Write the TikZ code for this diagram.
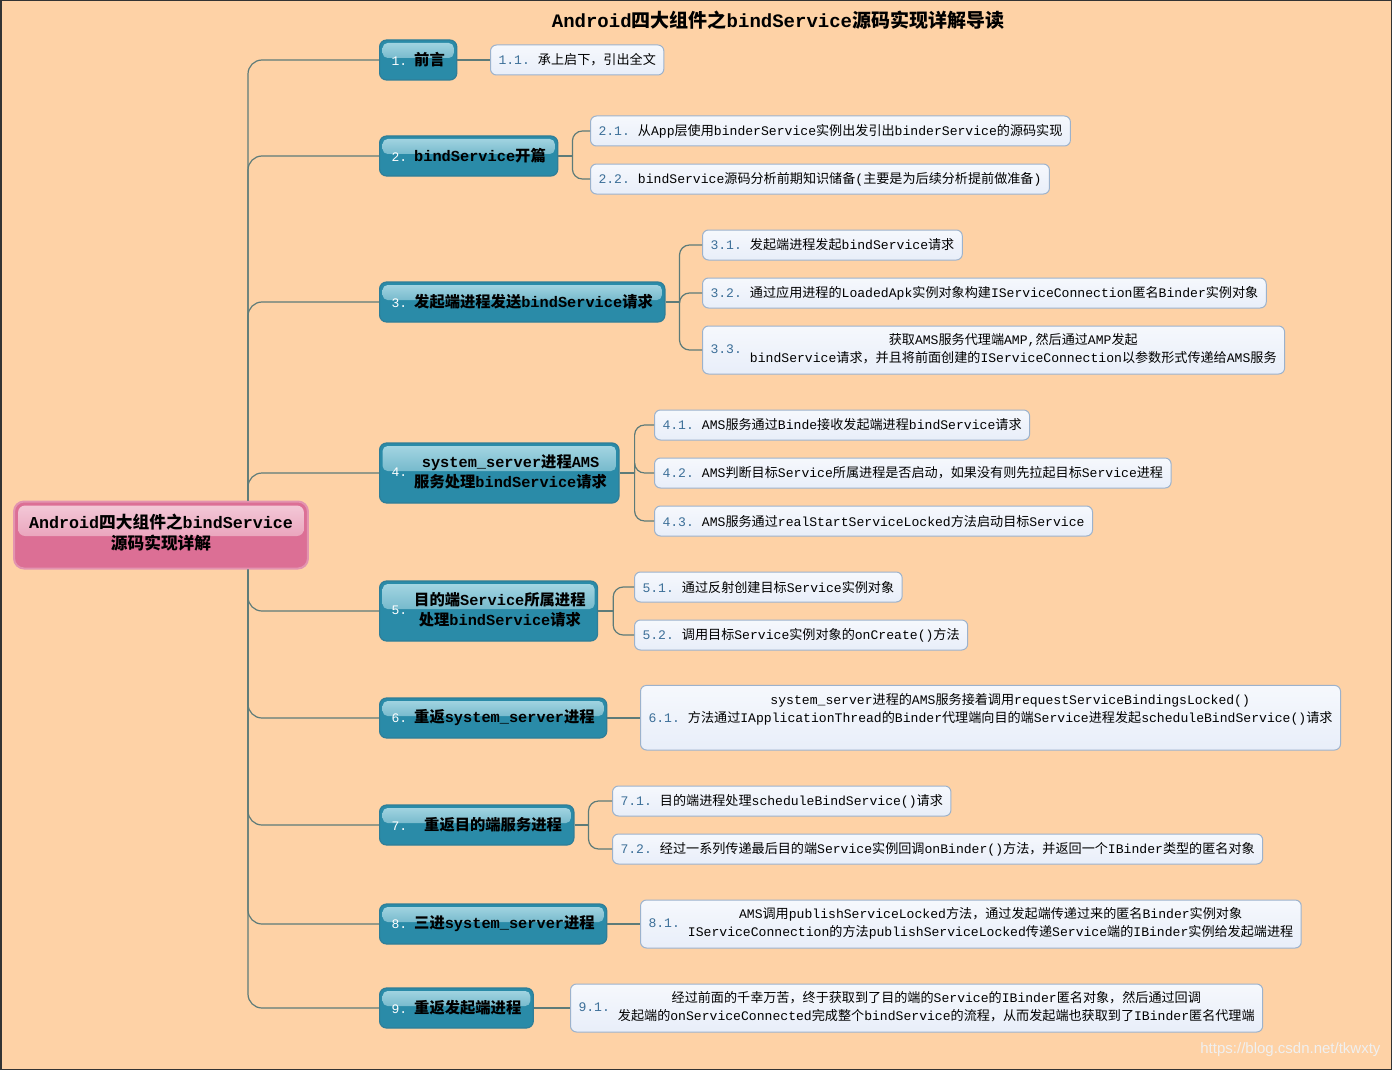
\documentclass[tikz,border=0pt]{standalone}
\usepackage{fontspec}
\setmainfont{Liberation Mono}
\setsansfont{Liberation Sans}
\newfontfamily\cjkfont{Noto Sans CJK SC}
\newfontfamily\latinfont{Liberation Mono}
% 中文字符自动切换到中文字体
\newXeTeXintercharclass\cjkclass
\newcount\cjkcode
\cjkcode="3000
\loop\XeTeXcharclass\cjkcode=\cjkclass\advance\cjkcode by 1 \ifnum\cjkcode<"3040 \repeat
\cjkcode="4E00
\loop\XeTeXcharclass\cjkcode=\cjkclass\advance\cjkcode by 1 \ifnum\cjkcode<"A000 \repeat
\cjkcode="FF00
\loop\XeTeXcharclass\cjkcode=\cjkclass\advance\cjkcode by 1 \ifnum\cjkcode<"FFF0 \repeat
\XeTeXinterchartoks 0 \cjkclass={\cjkfont}
\XeTeXinterchartoks 4095 \cjkclass={\cjkfont}
\XeTeXinterchartoks \cjkclass 0={\latinfont}
\XeTeXinterchartoks \cjkclass 4095={\latinfont}
\XeTeXinterchartokenstate=1
% 颜色
\definecolor{bgpeach}{HTML}{FED2A6}
\definecolor{connline}{HTML}{5D7B79}
\definecolor{branchfill}{HTML}{2A8BA8}
\definecolor{branchhi}{HTML}{A8D8E4}
\definecolor{branchline}{HTML}{2F7E98}
\definecolor{rootfill}{HTML}{DC6F95}
\definecolor{roothi}{HTML}{F4CCDA}
\definecolor{rootline}{HTML}{E394B0}
\definecolor{leaffill}{HTML}{E8EEF9}
\definecolor{leafline}{HTML}{9CB2CC}
\definecolor{leafnum}{HTML}{3C6F98}
% 编号
\newcommand\bnum[1]{{\mdseries\fontsize{13}{13}\selectfont\color{white}#1}\hspace{7pt}}
\newcommand\lnum[1]{{\color{leafnum}#1}\hspace{8pt}}
\begin{document}
\begin{tikzpicture}[x=1pt, y=-1pt,
  conn/.style={draw=connline, line width=1.2pt},
  rootbox/.style={draw=rootline, line width=2pt, fill=rootfill, rounded corners=10pt,
    inner xsep=15pt, inner ysep=6pt, minimum height=67pt,
    font=\bfseries\fontsize{16.7}{21}\selectfont,
    path picture={\fill[rounded corners=7pt, top color=roothi, bottom color=rootfill!80!roothi]
      ([shift={(4pt,-4pt)}]path picture bounding box.north west) rectangle
      ([shift={(-4pt,-1pt)}]path picture bounding box.east);}},
  branchbox/.style={anchor=west, draw=branchline, line width=1.2pt, fill=branchfill,
    rounded corners=7pt, inner xsep=12pt, inner ysep=5pt, minimum height=40pt,
    font=\bfseries\fontsize{15.3}{20}\selectfont,
    path picture={\fill[rounded corners=5pt, top color=branchhi, bottom color=branchfill!85!branchhi]
      ([shift={(3pt,-3pt)}]path picture bounding box.north west) rectangle
      ([shift={(-3pt,2pt)}]path picture bounding box.east);}},
  tallbranch/.style={branchbox, minimum height=60pt},
  leafbox/.style={anchor=west, draw=leafline, line width=1pt, top color=white!60!leaffill,
    bottom color=leaffill, rounded corners=6pt, inner xsep=8pt, inner ysep=6pt,
    minimum height=30pt, font=\fontsize{13.1}{18}\selectfont}]
  % 背景
  \fill[bgpeach] (0,0) rectangle (1392,1070);
  \useasboundingbox (0,0) rectangle (1392,1070);
  \draw[black!80, line width=1.5pt] (0.75,0.75) rectangle (1391.25,1069.25);
  % 标题
  \node[font=\bfseries\fontsize{19}{19}\selectfont] (title) at (778,20)
    {Android四大组件之bindService源码实现详解导读};
  % 中心主题
  \node[rootbox] (root) at (161,535) {\begin{tabular}{@{}c@{}}Android四大组件之bindService\\源码实现详解\end{tabular}};
  \coordinate (trunk) at (248,535);
  % 一级分支
  \node[branchbox] (b1) at (379,60) {\bnum{1.}前言};
  \node[branchbox] (b2) at (379,156) {\bnum{2.}bindService开篇};
  \node[branchbox] (b3) at (379,302) {\bnum{3.}发起端进程发送bindService请求};
  \node[tallbranch] (b4) at (379,473) {\bnum{4.}\begin{tabular}{@{}c@{}}system\_server进程AMS\\服务处理bindService请求\end{tabular}};
  \node[tallbranch] (b5) at (379,611) {\bnum{5.}\begin{tabular}{@{}c@{}}目的端Service所属进程\\处理bindService请求\end{tabular}};
  \node[branchbox] (b6) at (379,718) {\bnum{6.}重返system\_server进程};
  \node[branchbox] (b7) at (379,825) {\bnum{7.}\hspace{10pt}重返目的端服务进程};
  \node[branchbox] (b8) at (379,924) {\bnum{8.}三进system\_server进程};
  \node[branchbox] (b9) at (379,1008) {\bnum{9.}重返发起端进程};
  % 二级分支
  \node[leafbox] (l11) at (490,60) {\lnum{1.1.}承上启下，引出全文};
  \node[leafbox] (l21) at (590,131) {\lnum{2.1.}从App层使用binderService实例出发引出binderService的源码实现};
  \node[leafbox] (l22) at (590,179) {\lnum{2.2.}bindService源码分析前期知识储备(主要是为后续分析提前做准备)};
  \node[leafbox] (l31) at (702,245) {\lnum{3.1.}发起端进程发起bindService请求};
  \node[leafbox] (l32) at (702,293) {\lnum{3.2.}通过应用进程的LoadedApk实例对象构建IServiceConnection匿名Binder实例对象};
  \node[leafbox] (l33) at (702,350) {\lnum{3.3.}\begin{tabular}{@{}c@{}}获取AMS服务代理端AMP,然后通过AMP发起\\bindService请求，并且将前面创建的IServiceConnection以参数形式传递给AMS服务\end{tabular}};
  \node[leafbox] (l41) at (654,425) {\lnum{4.1.}AMS服务通过Binde接收发起端进程bindService请求};
  \node[leafbox] (l42) at (654,473) {\lnum{4.2.}AMS判断目标Service所属进程是否启动，如果没有则先拉起目标Service进程};
  \node[leafbox] (l43) at (654,521) {\lnum{4.3.}AMS服务通过realStartServiceLocked方法启动目标Service};
  \node[leafbox] (l51) at (634,587) {\lnum{5.1.}通过反射创建目标Service实例对象};
  \node[leafbox] (l52) at (634,635) {\lnum{5.2.}调用目标Service实例对象的onCreate()方法};
  \node[leafbox, anchor=base west, text depth=22pt] (l61) at (640,722) {\lnum{6.1.}\begin{tabular}[b]{@{}c@{}}system\_server进程的AMS服务接着调用requestServiceBindingsLocked()\\方法通过IApplicationThread的Binder代理端向目的端Service进程发起scheduleBindService()请求\end{tabular}};
  \node[leafbox] (l71) at (612,801) {\lnum{7.1.}目的端进程处理scheduleBindService()请求};
  \node[leafbox] (l72) at (612,849) {\lnum{7.2.}经过一系列传递最后目的端Service实例回调onBinder()方法，并返回一个IBinder类型的匿名对象};
  \node[leafbox] (l81) at (640,924) {\lnum{8.1.}\begin{tabular}{@{}c@{}}AMS调用publishServiceLocked方法，通过发起端传递过来的匿名Binder实例对象\\IServiceConnection的方法publishServiceLocked传递Service端的IBinder实例给发起端进程\end{tabular}};
  \node[leafbox] (l91) at (570,1008) {\lnum{9.1.}\begin{tabular}{@{}c@{}}经过前面的千幸万苦，终于获取到了目的端的Service的IBinder匿名对象，然后通过回调\\发起端的onServiceConnected完成整个bindService的流程，从而发起端也获取到了IBinder匿名代理端\end{tabular}};
  % 中心到一级分支
  \foreach \n in {1,...,4} \draw[conn, rounded corners=14pt] (root.north -| trunk) |- (b\n.west);
  \foreach \n in {5,...,9} \draw[conn, rounded corners=14pt] (root.south -| trunk) |- (b\n.west);
  % 一级到二级
  \draw[conn] (b1.east) -- (l11.west);
  \draw[conn] (b2.east) -- ++(14pt,0) coordinate (j2);
  \foreach \l in {l21,l22} \draw[conn, rounded corners=10pt] (j2) |- (\l.west);
  \draw[conn] (b3.east) -- ++(14pt,0) coordinate (j3);
  \foreach \l in {l31,l32,l33} \draw[conn, rounded corners=10pt] (j3) |- (\l.west);
  \draw[conn] (b4.east) -- ++(15pt,0) coordinate (j4);
  \foreach \l in {l41,l42,l43} \draw[conn, rounded corners=10pt] (j4) |- (\l.west);
  \draw[conn] (b5.east) -- ++(15pt,0) coordinate (j5);
  \foreach \l in {l51,l52} \draw[conn, rounded corners=10pt] (j5) |- (\l.west);
  \draw[conn] (b6.east) -- (b6.east -| l61.west);
  \draw[conn] (b7.east) -- ++(14pt,0) coordinate (j7);
  \foreach \l in {l71,l72} \draw[conn, rounded corners=10pt] (j7) |- (\l.west);
  \draw[conn] (b8.east) -- (l81.west);
  \draw[conn] (b9.east) -- (l91.west);
  % 水印
  \node[font=\sffamily\fontsize{15}{15}\selectfont, text=white!88!gray, anchor=east] (mark) at (1384,1050) {https://blog.csdn.net/tkwxty};
\end{tikzpicture}
\end{document}
